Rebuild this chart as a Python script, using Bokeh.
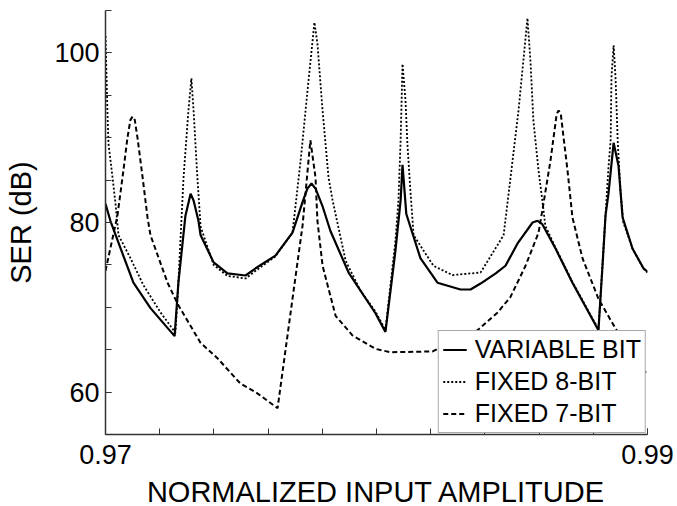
from bokeh.plotting import figure
from bokeh.models import FixedTicker, Legend, LegendItem, Range1d
from bokeh.embed import file_html
from bokeh.resources import INLINE

# ---- data ----
x_var = [0.97000, 0.97018, 0.97055, 0.97103, 0.97166, 0.97255, 0.97269, 0.97295, 0.97314,
         0.97325, 0.97343, 0.97351, 0.97399, 0.97450, 0.97517, 0.97554, 0.97627, 0.97690,
         0.97727, 0.97745, 0.97760, 0.97775, 0.97800, 0.97830, 0.97897, 0.97996, 0.98033,
         0.98070, 0.98089, 0.98096, 0.98110, 0.98162, 0.98225, 0.98310, 0.98347, 0.98384,
         0.98440, 0.98476, 0.98520, 0.98576, 0.98594, 0.98612, 0.98661, 0.98723, 0.98819,
         0.98834, 0.98845, 0.98856, 0.98875, 0.98893, 0.98908, 0.98945, 0.98985, 0.99000]
y_var = [82.2, 80.2, 77.0, 72.9, 69.9, 66.6, 72.9, 80.8, 83.4,
         82.6, 80.2, 78.5, 75.3, 74.0, 73.75, 74.6, 76.1, 78.8,
         82.4, 84.0, 84.6, 84.0, 82.0, 79.0, 74.1, 69.3, 67.1,
         76.7, 82.6, 86.8, 81.0, 75.8, 72.9, 72.1, 72.1, 72.8,
         74.0, 74.9, 77.5, 80.0, 80.2, 79.8, 76.9, 72.9, 67.3,
         74.9, 80.8, 83.4, 89.4, 86.7, 80.6, 76.9, 74.6, 74.2]

x_8bit = [0.97000, 0.97007, 0.97011, 0.97026, 0.97037, 0.97048, 0.97092, 0.97140, 0.97203,
          0.97258, 0.97269, 0.97288, 0.97306, 0.97317, 0.97325, 0.97339, 0.97351, 0.97399,
          0.97450, 0.97517, 0.97554, 0.97627, 0.97690, 0.97720, 0.97749, 0.97771, 0.97782,
          0.97801, 0.97823, 0.97838, 0.97886, 0.97940, 0.97996, 0.98033, 0.98070, 0.98081,
          0.98089, 0.98096, 0.98107, 0.98114, 0.98125, 0.98137, 0.98210, 0.98280, 0.98384,
          0.98469, 0.98483, 0.98502, 0.98524, 0.98542, 0.98557, 0.98568, 0.98579, 0.98598,
          0.98612, 0.98623, 0.98661, 0.98723, 0.98819, 0.98845, 0.98856, 0.98864, 0.98867,
          0.98875, 0.98882, 0.98890, 0.98900, 0.98911, 0.98945, 0.98985, 0.99000]
y_8bit = [102.0, 93.2, 89.3, 85.3, 82.2, 78.5, 75.8, 72.6, 69.4,
          67.0, 73.0, 85.3, 93.2, 97.0, 93.2, 85.3, 79.5, 75.0,
          73.7, 73.4, 74.3, 76.0, 78.8, 87.3, 96.7, 103.6, 101.1,
          93.2, 85.3, 82.6, 75.5, 72.0, 69.5, 67.3, 77.9, 82.6,
          89.7, 98.7, 94.4, 89.3, 83.8, 78.5, 74.9, 73.8, 74.1,
          78.5, 82.2, 87.3, 93.2, 99.1, 104.1, 99.1, 92.0, 86.1,
          82.6, 79.6, 77.0, 73.0, 67.4, 80.8, 86.5, 89.7, 97.1,
          100.9, 97.1, 89.7, 83.8, 80.0, 76.9, 74.6, 74.1]

x_7bit = [0.97000, 0.97044, 0.97066, 0.97081, 0.97092, 0.97100, 0.97108, 0.97118, 0.97137,
          0.97155, 0.97166, 0.97229, 0.97266, 0.97351, 0.97413, 0.97498, 0.97554, 0.97635,
          0.97690, 0.97727, 0.97756, 0.97775, 0.97782, 0.97801, 0.97849, 0.97911, 0.97996,
          0.98052, 0.98207, 0.98373, 0.98447, 0.98494, 0.98550, 0.98598, 0.98616, 0.98642,
          0.98665, 0.98672, 0.98680, 0.98705, 0.98723, 0.98760, 0.98819, 0.98882, 0.99000]
y_7bit = [74.3, 80.8, 86.1, 90.0, 92.1, 92.5, 92.1, 90.0, 85.3,
          80.6, 78.5, 72.9, 70.4, 65.8, 64.0, 61.0, 60.0, 58.1,
          71.0, 79.6, 89.7, 85.3, 80.2, 74.9, 69.0, 66.7, 65.1,
          64.7, 64.8, 67.3, 69.4, 71.2, 74.9, 78.8, 82.2, 87.3,
          92.8, 93.2, 92.8, 86.1, 80.6, 75.8, 71.0, 67.5, 62.0]

series_labels = ["VARIABLE BIT", "FIXED 8-BIT", "FIXED 7-BIT"]
x_ticks = [0.97, 0.99]
x_minor = [0.970, 0.972, 0.974, 0.976, 0.978, 0.980, 0.982, 0.984, 0.986, 0.988, 0.990]
y_ticks = [60, 80, 100]
y_minor = [55, 60, 65, 70, 75, 80, 85, 90, 95, 100, 105]

FONT = "Liberation Sans"

p = figure(frame_width=542, frame_height=424, output_backend="svg", toolbar_location=None,
           x_range=Range1d(0.97, 0.99), y_range=Range1d(55, 105),
           min_border_left=105, min_border_right=30, min_border_top=10, min_border_bottom=72)
p.outline_line_color = None
p.grid.visible = False
p.background_fill_color = "white"

r1 = p.line(x_var, y_var, line_color="black", line_width=2.2)
r2 = p.line(x_8bit, y_8bit, line_color="black", line_width=1.8, line_dash="2 2")
r3 = p.line(x_7bit, y_7bit, line_color="black", line_width=2, line_dash="5 3")

for ax, ticks, minor in ((p.xaxis[0], x_ticks, x_minor), (p.yaxis[0], y_ticks, y_minor)):
    ax.ticker = FixedTicker(ticks=ticks, minor_ticks=minor)
    ax.axis_line_color = "#333333"
    ax.axis_line_width = 1.5
    ax.major_tick_line_color = "#333333"
    ax.minor_tick_line_color = "#333333"
    ax.major_tick_in = 6
    ax.major_tick_out = 0
    ax.minor_tick_in = 6
    ax.minor_tick_out = 0
    ax.major_label_text_font = FONT
    ax.major_label_text_font_size = "27px"
    ax.major_label_text_color = "black"
    ax.axis_label_text_font = FONT
    ax.axis_label_text_font_size = "29px"
    ax.axis_label_text_font_style = "normal"
    ax.axis_label_text_color = "black"

p.xaxis.axis_label = "NORMALIZED INPUT AMPLITUDE"
p.yaxis.axis_label = "SER (dB)"
p.xaxis.major_label_overrides = {0.97: "0.97", 0.99: "0.99"}
p.xaxis.major_label_standoff = 10
p.xaxis.axis_label_standoff = 9
p.yaxis.major_label_standoff = 6
p.yaxis.axis_label_standoff = 14

legend = Legend(items=[LegendItem(label=series_labels[0], renderers=[r1]),
                       LegendItem(label=series_labels[1], renderers=[r2]),
                       LegendItem(label=series_labels[2], renderers=[r3])],
                location="bottom_right", margin=1, padding=4, spacing=3,
                glyph_width=24, glyph_height=29, label_height=29, label_standoff=8,
                label_text_font=FONT, label_text_font_size="25px", label_text_color="black",
                border_line_color="#555555", border_line_width=1,
                background_fill_color="white", background_fill_alpha=1.0)
p.add_layout(legend)

open("out.html", "w").write(file_html(p, INLINE))
